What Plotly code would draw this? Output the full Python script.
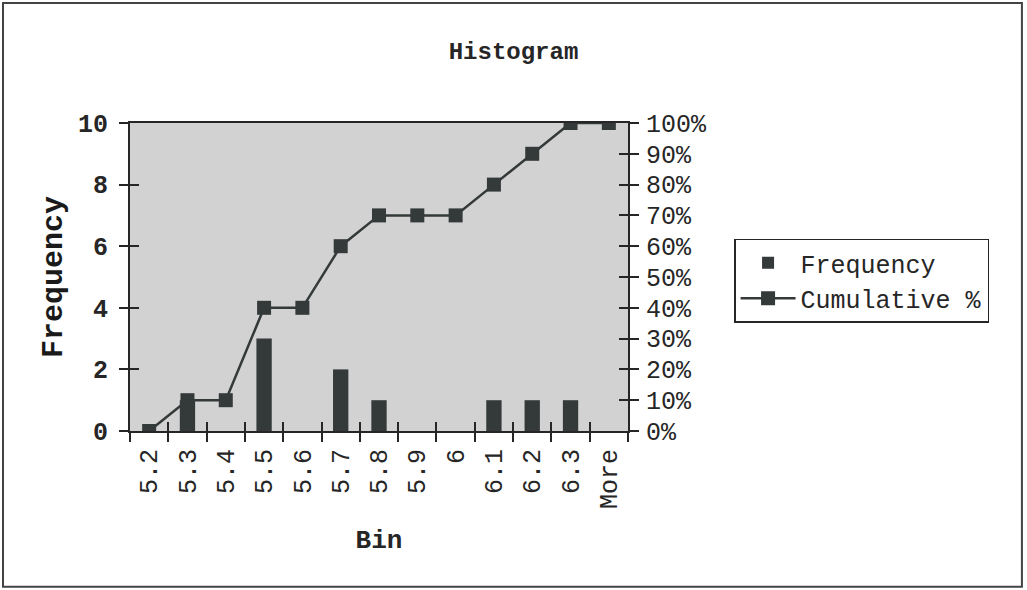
import plotly.graph_objects as go

# Histogram data
bins = ["5.2", "5.3", "5.4", "5.5", "5.6", "5.7", "5.8", "5.9", "6", "6.1", "6.2", "6.3", "More"]
frequency = [0, 1, 0, 3, 0, 2, 1, 0, 0, 1, 1, 1, 0]
cumulative_pct = [0.0, 0.10, 0.10, 0.40, 0.40, 0.60, 0.70, 0.70, 0.70, 0.80, 0.90, 1.00, 1.00]

freq_ticks = [0, 2, 4, 6, 8, 10]
pct_ticks = [i / 10 for i in range(11)]

MONO = "Liberation Mono, Courier New, monospace"
INK = "#262626"
DARK = "#343939"

fig = go.Figure()

fig.add_trace(go.Bar(
    x=bins, y=frequency, name="Frequency",
    marker=dict(color=DARK, line=dict(width=0)),
    xaxis="x", yaxis="y",
))

fig.add_trace(go.Scatter(
    x=bins, y=cumulative_pct, name="Cumulative %",
    mode="lines+markers",
    line=dict(color=DARK, width=2.5),
    marker=dict(symbol="square", size=14, color=DARK),
    xaxis="x", yaxis="y2",
))

# helper traces carrying the inner halves of the crossing tick marks
fig.add_trace(go.Scatter(x=bins, y=[None] * len(bins), xaxis="x2", yaxis="y3",
                         showlegend=False, hoverinfo="skip"))
fig.add_trace(go.Scatter(x=bins, y=[None] * len(bins), xaxis="x2", yaxis="y4",
                         showlegend=False, hoverinfo="skip"))

common_x = dict(type="category", categoryorder="array", categoryarray=bins,
                range=[-0.5, len(bins) - 0.5], tickson="boundaries")

fig.update_layout(
    width=1027, height=590,
    margin=dict(l=130, r=399, t=123, b=159),
    paper_bgcolor="white",
    plot_bgcolor="#d2d2d2",
    font=dict(family=MONO, color=INK, size=20),
    bargap=0.6,
    showlegend=True,
    title=dict(text="<b>Histogram</b>", x=0.5, xref="container", xanchor="center",
               y=0.915, yref="container", yanchor="middle",
               font=dict(family=MONO, size=24, color=INK)),
    xaxis=dict(
        **common_x,
        tickangle=-90,
        ticks="outside", ticklen=9, tickwidth=1.5, tickcolor=INK,
        ticklabelstandoff=6,
        showline=True, linecolor=INK, linewidth=2, mirror=True,
        showgrid=False, zeroline=False,
        tickfont=dict(family=MONO, size=25, color=INK),
        title=dict(text="<b>Bin</b>", font=dict(family=MONO, size=26, color=INK), standoff=22),
    ),
    xaxis2=dict(
        **common_x, overlaying="x",
        ticks="inside", ticklen=9, tickwidth=1.5, tickcolor=INK,
        showticklabels=False, showline=False, showgrid=False, zeroline=False,
    ),
    yaxis=dict(
        range=[0, 10], tickvals=freq_ticks,
        ticks="outside", ticklen=9, tickwidth=1.5, tickcolor=INK,
        ticklabelstandoff=6,
        showline=True, linecolor=INK, linewidth=2,
        showgrid=False, zeroline=False,
        tickfont=dict(family=MONO, size=25, color=INK, weight="bold"),
        title=dict(text="<b>Frequency</b>", font=dict(family=MONO, size=30, color="#1a1a1a"),
                   standoff=6),
    ),
    yaxis2=dict(
        range=[0, 1], tickvals=pct_ticks, tickformat=".0%",
        overlaying="y", side="right",
        ticks="outside", ticklen=9, tickwidth=1.5, tickcolor=INK,
        ticklabelstandoff=2,
        showline=True, linecolor=INK, linewidth=2,
        showgrid=False, zeroline=False,
        tickfont=dict(family=MONO, size=25, color=INK),
    ),
    yaxis3=dict(
        range=[0, 10], tickvals=freq_ticks, overlaying="y", side="left",
        ticks="inside", ticklen=9, tickwidth=1.5, tickcolor=INK,
        showticklabels=False, showline=False, showgrid=False, zeroline=False,
    ),
    yaxis4=dict(
        range=[0, 1], tickvals=pct_ticks, overlaying="y", side="right",
        ticks="inside", ticklen=9, tickwidth=1.5, tickcolor=INK,
        showticklabels=False, showline=False, showgrid=False, zeroline=False,
    ),
    legend=dict(
        x=1.213, y=0.625, xanchor="left", yanchor="top",
        bgcolor="white", bordercolor=INK, borderwidth=1.5,
        font=dict(family=MONO, size=25, color=INK),
        itemwidth=55, tracegroupgap=4,
    ),
    shapes=[
        # outer frame around the whole chart
        dict(type="rect", xref="paper", yref="paper",
             x0=-0.255, x1=1.791, y0=-0.506, y1=1.39,
             line=dict(color="#444444", width=2), fillcolor="rgba(0,0,0,0)", layer="above"),
    ],
)

fig.write_html("out.html")
